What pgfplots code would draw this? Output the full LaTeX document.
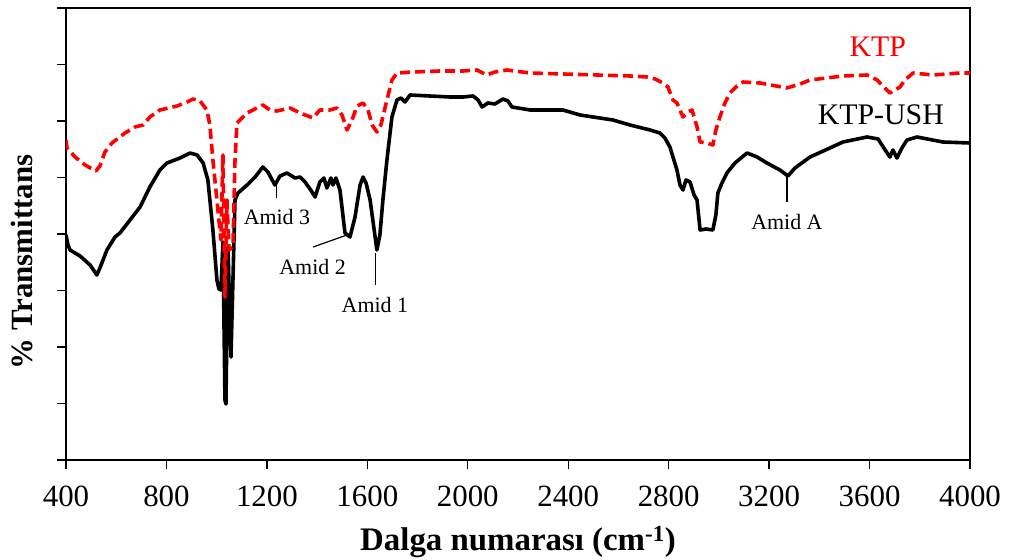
\documentclass[border=0pt]{standalone}
\usepackage{fontspec}
\setmainfont{Liberation Serif}
\usepackage{pgfplots}
\pgfplotsset{compat=1.18}

\pgfplotstableread{
x y
400 225
408 215
416 210
456 204
496 195
523 185
535 192
563 210
595 223
615 227
655 240
695 253
734 273
774 290
802 297
854 302
894 307
922 305
946 297
965 280
985 230
1001 180
1009 171
1017 170
1025 218
1033 60
1037 56
1045 213
1057 103
1073 260
1085 267
1121 275
1153 283
1184 293
1204 288
1232 275
1252 284
1280 287
1312 282
1332 283
1352 278
1380 268
1392 263
1411 278
1427 282
1439 272
1455 282
1463 275
1475 282
1491 270
1511 227
1531 223
1551 243
1571 275
1583 283
1595 277
1611 260
1638 210
1650 225
1662 260
1678 300
1698 343
1718 360
1734 362
1750 358
1770 365
1849 364
1929 363
1981 363
2021 364
2041 360
2057 353
2080 357
2108 356
2140 361
2160 359
2176 353
2248 350
2379 350
2447 345
2578 340
2646 335
2726 330
2765 327
2785 322
2805 313
2833 290
2845 275
2857 270
2869 280
2885 278
2901 265
2913 260
2925 230
2949 231
2976 230
2988 245
2996 267
3012 277
3032 287
3064 297
3112 307
3152 303
3191 297
3243 290
3275 284
3303 292
3363 303
3442 312
3494 318
3590 323
3634 321
3657 312
3681 303
3693 310
3709 302
3729 312
3749 320
3789 323
3892 318
4000 317
}\ush

\pgfplotstableread{
x y
400 320
404 312
412 310
436 303
476 295
519 289
535 294
555 308
583 317
635 327
675 333
707 335
734 343
774 350
842 354
882 358
906 361
934 359
961 350
973 335
985 300
1001 260
1013 230
1017 220
1025 305
1033 163
1041 260
1049 210
1065 213
1073 300
1081 337
1121 347
1184 355
1212 350
1240 349
1292 352
1332 347
1384 342
1411 350
1451 350
1479 352
1499 345
1519 330
1539 340
1559 354
1583 357
1603 350
1619 335
1638 328
1654 335
1678 360
1698 380
1718 387
1782 388
1889 389
1981 389
2036 390
2076 385
2108 388
2156 390
2248 387
2515 385
2646 384
2714 383
2746 381
2777 377
2797 373
2817 360
2833 357
2845 350
2857 343
2877 348
2893 350
2913 333
2925 318
2953 317
2976 315
2988 330
3004 343
3024 357
3044 367
3072 374
3096 378
3164 377
3271 372
3323 376
3363 380
3494 384
3590 385
3630 380
3653 374
3681 367
3701 370
3721 373
3741 380
3773 387
3853 385
3960 387
4000 387
}\ktp

\begin{document}
\begin{tikzpicture}
\path[use as bounding box] (-66bp,-100bp) rectangle (944bp,460bp);
\begin{axis}[
  at={(0,0)}, anchor=south west,
  scale only axis, width=904bp, height=452bp,
  xmin=400, xmax=4000, ymin=0, ymax=452,
  xtick={400,800,...,4000},
  ytick={0,56.5,113,169.5,226,282.5,339,395.5,452},
  yticklabels={},
  xtick pos=bottom, ytick pos=left,
  tick align=outside,
  major tick length=9bp,
  tick style={line width=1.4bp, black},
  axis line style={line width=1.8bp},
  /pgf/number format/assume math mode=true,
  /pgf/number format/1000 sep={},
  xticklabel style={font=\fontsize{31}{36}\selectfont, anchor=base, yshift=-37bp},
  xlabel={\textbf{Dalga numarası (cm\textsuperscript{-1})}},
  xlabel style={font=\fontsize{33}{38}\selectfont, at={(rel axis cs:0.5,0)}, anchor=base, yshift=-90bp},
  ylabel={\textbf{\% Transmittans}},
  ylabel style={font=\fontsize{31}{36}\selectfont, at={(rel axis cs:-0.0487,0.438)}, anchor=center},
]
\addplot[black, line width=3.6bp, line join=round] table[x=x,y=y] {\ush};
\addplot[red, line width=3.6bp, dash pattern=on 10bp off 5bp, line join=round] table[x=x,y=y] {\ktp};

\node[red, anchor=base, font=\fontsize{30}{34}\selectfont] at (axis cs:3633,403) {KTP};
\node[black, anchor=base, font=\fontsize{30}{34}\selectfont] at (axis cs:3645,335) {KTP-USH};

\node[anchor=base, font=\fontsize{22}{26}\selectfont] at (axis cs:1240,235) {Amid 3};
\node[anchor=base, font=\fontsize{22}{26}\selectfont] at (axis cs:1382,185) {Amid 2};
\node[anchor=base, font=\fontsize{22}{26}\selectfont] at (axis cs:1630,147) {Amid 1};
\node[anchor=base, font=\fontsize{22}{26}\selectfont] at (axis cs:3271,230) {Amid A};

\draw[line width=1.2bp] (axis cs:1237,275) -- (axis cs:1237,262);
\draw[line width=1.2bp] (axis cs:1384,213) -- (axis cs:1519,225);
\draw[line width=1.2bp] (axis cs:1634,207) -- (axis cs:1634,175);
\draw[line width=1.2bp] (axis cs:3271,285) -- (axis cs:3271,258);
\end{axis}
\end{tikzpicture}
\end{document}
